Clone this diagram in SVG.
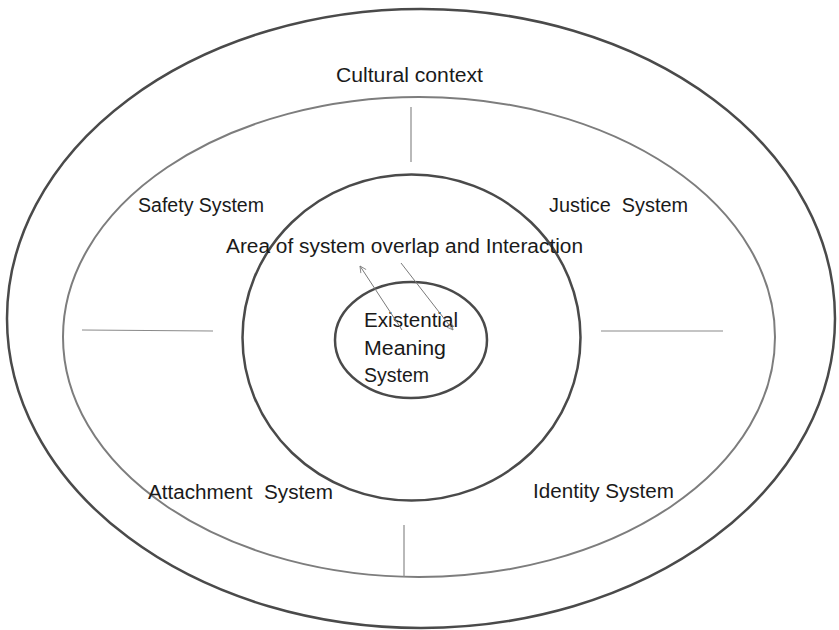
<svg xmlns="http://www.w3.org/2000/svg" width="839" height="630" viewBox="0 0 839 630">
  <defs>
    <style>
      .lbl { font-family: "Liberation Sans", Arial, sans-serif; font-size: 20px; fill: #1a1a1a; }
      .ring { fill: none; }
      .divider { stroke: #8a8a8a; stroke-width: 1.2; fill: none; }
      .link { stroke: #7a7a7a; stroke-width: 1; fill: none; }
    </style>
    <marker id="openHead" viewBox="0 0 10 10" refX="9" refY="5" markerWidth="8" markerHeight="8" orient="auto" markerUnits="userSpaceOnUse">
      <path d="M1,1 L9,5 L1,9" fill="none" stroke="#7a7a7a" stroke-width="1"/>
    </marker>
  </defs>
  <rect width="839" height="630" fill="#ffffff"/>

  <g id="cultural-context">
    <ellipse class="ring" cx="421" cy="318.5" rx="414" ry="309.5" stroke="#4a4a4a" stroke-width="2.5"/>
    <text class="lbl" x="336" y="82" textLength="147" lengthAdjust="spacingAndGlyphs">Cultural context</text>
  </g>

  <g id="systems-ring">
    <ellipse class="ring" cx="419" cy="337" rx="356" ry="240" stroke="#7d7d7d" stroke-width="2"/>
    <text class="lbl" x="138" y="212" textLength="126" lengthAdjust="spacingAndGlyphs">Safety System</text>
    <text class="lbl" x="549" y="212" textLength="139" lengthAdjust="spacingAndGlyphs" xml:space="preserve">Justice  System</text>
    <text class="lbl" x="148" y="499" textLength="185" lengthAdjust="spacingAndGlyphs" xml:space="preserve">Attachment  System</text>
    <text class="lbl" x="533" y="498" textLength="141" lengthAdjust="spacingAndGlyphs">Identity System</text>
  </g>

  <g id="overlap-area">
    <ellipse class="ring" cx="411.5" cy="337.5" rx="169" ry="163" stroke="#4a4a4a" stroke-width="2.5"/>
    <text class="lbl" x="226" y="253" textLength="357" lengthAdjust="spacingAndGlyphs">Area of system overlap and Interaction</text>
  </g>

  <g id="existential-meaning">
    <ellipse class="ring" cx="411" cy="340" rx="76" ry="58" stroke="#4a4a4a" stroke-width="2.5"/>
    <text class="lbl" x="364" y="327" textLength="94" lengthAdjust="spacingAndGlyphs">Existential</text>
    <text class="lbl" x="364" y="355" textLength="82" lengthAdjust="spacingAndGlyphs">Meaning</text>
    <text class="lbl" x="364" y="382" textLength="65" lengthAdjust="spacingAndGlyphs">System</text>
  </g>

  <g id="connectors">
    <line class="divider" x1="411" y1="107" x2="411" y2="162"/>
    <line class="divider" x1="82" y1="330" x2="213" y2="331"/>
    <line class="divider" x1="601" y1="331" x2="723" y2="331"/>
    <line class="divider" x1="404" y1="525" x2="404" y2="577"/>
    <line class="link" x1="402" y1="330" x2="360" y2="266" marker-end="url(#openHead)"/>
    <line class="link" x1="401" y1="263" x2="453" y2="330" marker-end="url(#openHead)"/>
  </g>
</svg>
